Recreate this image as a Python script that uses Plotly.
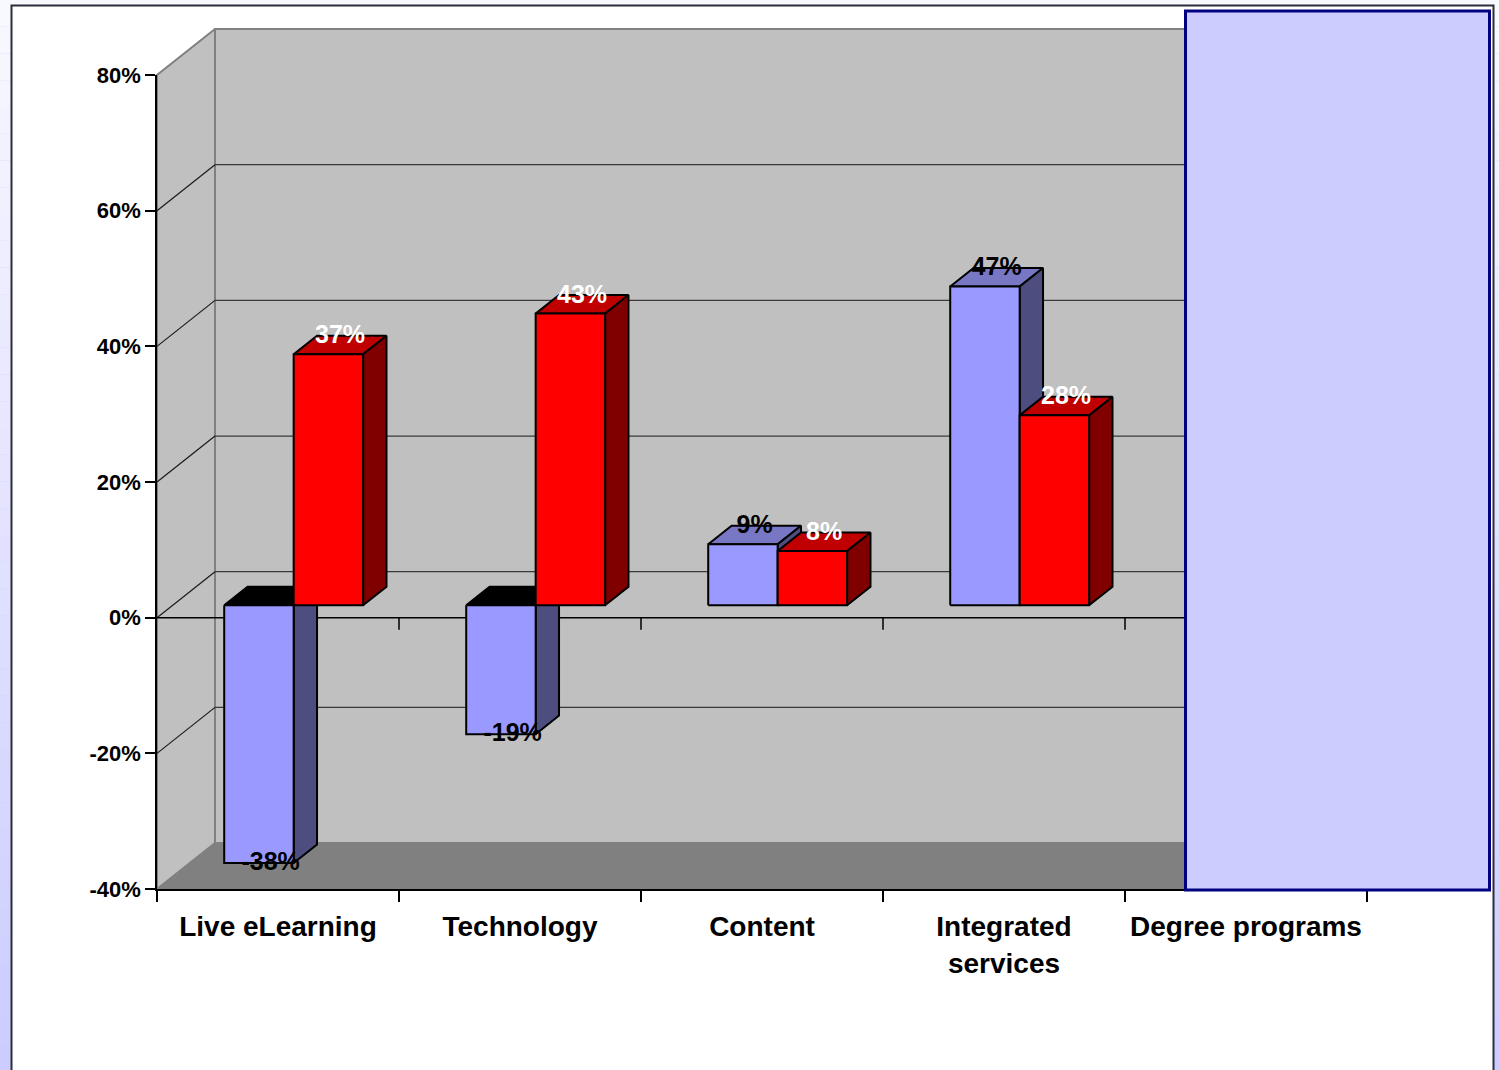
import plotly.graph_objects as go

# ---------------- data ----------------
categories = ["Live eLearning", "Technology", "Content", "Integrated services", "Degree programs"]
tick_text = ["Live eLearning", "Technology", "Content", "Integrated<br>services", "Degree programs"]
series_blue = [-38, -19, 9, 47, None]
series_red = [37, 43, 8, 28, None]
y_ticks = [-40, -20, 0, 20, 40, 60, 80]
y_tick_labels = ["-40%", "-20%", "0%", "20%", "40%", "60%", "80%"]
y_min, y_max = -40, 80

# ---------------- geometry (pixels -> data) ----------------
W, H = 1499, 1070
PX0, CW = 157.0, 242.0          # front plane: left edge px, px per category
PY0, PS = 617.7, 6.783          # front plane: px of 0 %, px per 1 %
DX, DY = 58.0 / CW, 46.0 / PS   # full depth offset in data units
D0, D1 = 0.27, 0.673            # bar depth range
SLOTS = [(0.213, 0.5), (0.5, 0.787)]
NC = len(categories)


def P(x, y, d):
    return x + d * DX, y + d * DY


def poly(pts, fill, line="black", width=2):
    xs = [p[0] for p in pts] + [pts[0][0]]
    ys = [p[1] for p in pts] + [pts[0][1]]
    return go.Scatter(x=xs, y=ys, mode="lines", fill="toself", fillcolor=fill,
                      line=dict(color=line, width=width), hoverinfo="skip",
                      showlegend=False, xaxis="x", yaxis="y")


def seg(p, q, color, width):
    return go.Scatter(x=[p[0], q[0]], y=[p[1], q[1]], mode="lines",
                      line=dict(color=color, width=width), hoverinfo="skip",
                      showlegend=False, xaxis="x", yaxis="y")


traces = []
# walls
traces.append(poly([P(0, y_min, 1), P(NC, y_min, 1), P(NC, y_max, 1), P(0, y_max, 1)],
                   "#c0c0c0", "#808080", 2))
traces.append(poly([P(0, y_min, 0), P(0, y_min, 1), P(0, y_max, 1), P(0, y_max, 0)],
                   "#c0c0c0", "#808080", 2))
traces.append(poly([P(0, y_min, 0), P(NC, y_min, 0), P(NC, y_min, 1), P(0, y_min, 1)],
                   "#808080", "#808080", 1))
# gridlines
for v in y_ticks[1:-1]:
    traces.append(seg(P(0, v, 1), P(NC, v, 1), "#3a3a3a", 1.2))
    traces.append(seg(P(0, v, 0), P(0, v, 1), "#1a1a1a", 1.2))
# front 0 % line with ticks
traces.append(seg(P(0, 0, 0), P(NC, 0, 0), "black", 1.5))
for k in range(1, NC + 1):
    traces.append(seg((k, 0), (k, -12 / PS), "black", 1.5))

# bars
colors = [
    dict(front="#9999ff", top="#7777c4", neg_top="#000000", side="#4d4d80", label="black"),
    dict(front="#ff0000", top="#c00000", neg_top="#000000", side="#800000", label="white"),
]
lab_x, lab_y, lab_t, lab_c = [], [], [], []
for i in range(NC):
    for s, vals in enumerate([series_blue, series_red]):
        v = vals[i]
        if v is None:
            continue
        x0, x1 = i + SLOTS[s][0], i + SLOTS[s][1]
        c = colors[s]
        ytop = max(v, 0)
        traces.append(poly([P(x0, ytop, D0), P(x1, ytop, D0), P(x1, ytop, D1), P(x0, ytop, D1)],
                           c["top"] if v >= 0 else c["neg_top"]))
        traces.append(poly([P(x1, 0, D0), P(x1, v, D0), P(x1, v, D1), P(x1, 0, D1)], c["side"]))
        traces.append(poly([P(x0, 0, D0), P(x1, 0, D0), P(x1, v, D0), P(x0, v, D0)], c["front"]))
        dm = (D0 + D1) / 2
        lx, ly = P((x0 + x1) / 2, v, dm)
        ly += (8 / PS) if v >= 0 else (-9.5 / PS)
        lab_x.append(lx)
        lab_y.append(ly)
        lab_t.append(f"{v}%")
        lab_c.append(c["label"])

traces.append(go.Scatter(x=lab_x, y=lab_y, text=lab_t, mode="text", textposition="middle center",
                         textfont=dict(family="Arial", size=25, color=lab_c, weight="bold"),
                         hoverinfo="skip", showlegend=False, xaxis="x", yaxis="y",
                         cliponaxis=False))

# axes carrier trace (front plane)
traces.append(go.Scatter(x=categories, y=[0] * NC, mode="markers", marker=dict(opacity=0),
                         hoverinfo="skip", showlegend=False, xaxis="x2", yaxis="y2"))

fig = go.Figure(data=traces)

# ---------------- background shapes ----------------
shapes = []
NSTRIPE = 40
for k in range(NSTRIPE):
    t = k / (NSTRIPE - 1)
    r = round(248 - (248 - 204) * t)
    shapes.append(dict(type="rect", xref="paper", yref="paper", layer="below",
                       x0=0, x1=1, y0=1 - (k + 1) / NSTRIPE, y1=1 - k / NSTRIPE,
                       fillcolor=f"rgb({r},{r},255)", line=dict(width=0)))
shapes.append(dict(type="rect", xref="paper", yref="paper", layer="below",
                   x0=11.5 / W, x1=1493.5 / W, y0=-0.02, y1=1 - 5.5 / H,
                   fillcolor="white", line=dict(color="#2c2c3c", width=2)))
# lavender box over the last category
shapes.append(dict(type="rect", xref="paper", yref="paper", layer="above",
                   x0=1185.5 / W, x1=1489.5 / W, y0=1 - 890 / H, y1=1 - 11 / H,
                   fillcolor="#ccccff", line=dict(color="#000080", width=3)))

tickfont_x = dict(family="Arial", size=28, color="black", weight="bold")
tickfont_y = dict(family="Arial", size=22, color="black", weight="bold")

fig.update_layout(
    width=W, height=H,
    margin=dict(l=0, r=0, t=0, b=0, pad=0, autoexpand=False),
    paper_bgcolor="#ccccff",
    plot_bgcolor="rgba(0,0,0,0)",
    showlegend=False,
    shapes=shapes,
    xaxis=dict(domain=[0, 1], range=[-PX0 / CW, (W - PX0) / CW], visible=False,
               fixedrange=True, automargin=False),
    yaxis=dict(domain=[0, 1], range=[(PY0 - H) / PS, PY0 / PS], visible=False,
               fixedrange=True, automargin=False),
    xaxis2=dict(domain=[PX0 / W, (PX0 + NC * CW) / W], anchor="y2", type="category",
                categoryorder="array", categoryarray=categories,
                range=[-0.5, NC - 0.5], tickvals=categories, ticktext=tick_text,
                tickson="boundaries", ticks="outside", ticklen=11, tickcolor="black",
                tickwidth=1.5, showline=True, linecolor="black", linewidth=1.5,
                showgrid=False, zeroline=False, tickfont=tickfont_x, fixedrange=True,
                ticklabelstandoff=12, automargin=False),
    yaxis2=dict(domain=[1 - (PY0 - y_min * PS) / H, 1 - (PY0 - y_max * PS) / H],
                anchor="x2", range=[y_min, y_max], tickvals=y_ticks, ticktext=y_tick_labels,
                ticks="outside", ticklen=10, tickcolor="black", tickwidth=1.5,
                showline=True, linecolor="black", linewidth=1.5, showgrid=False,
                zeroline=False, tickfont=tickfont_y, fixedrange=True, automargin=False),
)

fig.write_html("out.html")
